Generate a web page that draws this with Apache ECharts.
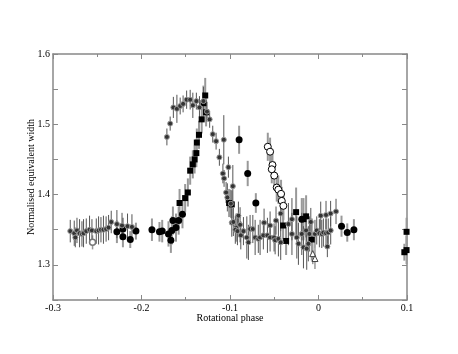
<!DOCTYPE html>
<html><head><meta charset="utf-8">
<script src="https://cdn.jsdelivr.net/npm/echarts@6/dist/echarts.min.js"></script>
<style>html,body{margin:0;padding:0;background:#fff}#c{width:458px;height:354px}</style>
</head><body><div id="c"></div>
<script>
// [phase, value, error]
var starPts = [
 [-0.2805,1.348,0.016],[-0.2760,1.345,0.018],[-0.2748,1.339,0.014],[-0.2729,1.349,0.018],[-0.2700,1.345,0.02],[-0.2673,1.344,0.018],[-0.2655,1.345,0.02],[-0.2624,1.348,0.018],[-0.2587,1.350,0.02],[-0.2560,1.349,0.016],[-0.2511,1.348,0.018],[-0.2485,1.349,0.02],[-0.2458,1.350,0.018],[-0.2430,1.350,0.02],[-0.2400,1.351,0.018],[-0.2372,1.353,0.018],[-0.2342,1.361,0.016],[-0.2278,1.358,0.02],[-0.2220,1.356,0.018],[-0.2158,1.355,0.018],[-0.2108,1.354,0.018],
 [-0.1713,1.482,0.012],[-0.1676,1.501,0.01],[-0.1640,1.524,0.015],[-0.1600,1.522,0.02],[-0.1563,1.526,0.012],[-0.1530,1.529,0.012],[-0.1490,1.535,0.013],[-0.1450,1.535,0.014],[-0.1420,1.527,0.018],[-0.1380,1.533,0.012],[-0.1345,1.524,0.016],[-0.1300,1.533,0.02],[-0.1260,1.518,0.014],[-0.1230,1.507,0.012],[-0.1195,1.486,0.012],[-0.1157,1.476,0.012],[-0.1120,1.453,0.012],[-0.1070,1.478,0.035],
 [-0.1080,1.430,0.014],[-0.1067,1.423,0.012],[-0.1044,1.403,0.015],[-0.1018,1.439,0.015],[-0.0968,1.412,0.03],[-0.1030,1.396,0.02],[-0.0990,1.387,0.02],[-0.0980,1.360,0.02],[-0.0962,1.361,0.02],[-0.0931,1.353,0.02],[-0.0905,1.370,0.02],[-0.0886,1.357,0.025],[-0.0940,1.350,0.02],[-0.0916,1.348,0.02],[-0.0878,1.342,0.02],[-0.0848,1.348,0.02],[-0.0810,1.339,0.03],[-0.0792,1.332,0.025],[-0.0773,1.351,0.02],[-0.0742,1.351,0.02],[-0.0716,1.339,0.025],[-0.0680,1.337,0.02],[-0.0660,1.339,0.025],[-0.0623,1.342,0.02],[-0.0577,1.342,0.025],[-0.0547,1.339,0.02],[-0.0502,1.339,0.02],[-0.0490,1.335,0.02],[-0.0453,1.337,0.025],[-0.0427,1.332,0.025],
 [-0.0615,1.360,0.02],[-0.0547,1.356,0.02],[-0.0480,1.363,0.02],[-0.0427,1.373,0.025],[-0.0340,1.358,0.03],[-0.0300,1.365,0.03],[-0.0087,1.361,0.02],[0.0025,1.370,0.02],[0.0085,1.371,0.02],[0.0137,1.373,0.018],[0.0198,1.376,0.018],
 [-0.0300,1.344,0.03],[-0.0245,1.339,0.03],[-0.0227,1.330,0.03],[-0.0189,1.344,0.03],[-0.0170,1.325,0.03],[-0.0140,1.349,0.025],[-0.0133,1.323,0.03],[-0.0115,1.330,0.025],[-0.0103,1.344,0.025],[-0.0040,1.344,0.02],[-0.0020,1.349,0.02],[0.0010,1.345,0.02],[0.0037,1.344,0.02],[0.0055,1.346,0.02],[0.0085,1.345,0.02],[0.0110,1.346,0.02],[0.0138,1.349,0.02],[0.0100,1.326,0.015]
];
var circlePts = [
 [-0.2278,1.347,0.016],[-0.2210,1.351,0.016],[-0.2210,1.340,0.015],[-0.2127,1.336,0.012],[-0.2063,1.348,0.012],[-0.1882,1.350,0.016],[-0.1797,1.347,0.014],[-0.1766,1.348,0.016],[-0.1695,1.344,0.018],[-0.1668,1.335,0.018],[-0.1657,1.349,0.02],[-0.1645,1.363,0.02],[-0.1610,1.353,0.02],[-0.1580,1.363,0.02],[-0.1537,1.372,0.02],[-0.0897,1.478,0.02],[-0.0800,1.430,0.018],[-0.0708,1.388,0.014],[-0.0189,1.365,0.03],[0.0260,1.355,0.015],[0.0325,1.346,0.013],[0.0400,1.350,0.015]
];
var squarePts = [
 [-0.1570,1.388,0.02],[-0.1507,1.395,0.02],[-0.1476,1.403,0.02],[-0.1450,1.434,0.02],[-0.1420,1.443,0.02],[-0.1400,1.450,0.02],[-0.1380,1.459,0.02],[-0.1375,1.474,0.02],[-0.1350,1.485,0.02],[-0.1320,1.507,0.02],[-0.1270,1.517,0.02],[-0.1300,1.530,0.025],[-0.1280,1.541,0.025],[-0.1010,1.388,0.02],[-0.0980,1.386,0.02],[-0.0400,1.356,0.02],[-0.0366,1.334,0.02],[-0.0253,1.375,0.035],[-0.0140,1.369,0.03],[-0.0170,1.365,0.03],[-0.0076,1.336,0.03],[0.0995,1.347,0.02],[0.0995,1.321,0.02],[0.0970,1.318,0.012]
];
var openCirclePts = [
 [-0.0573,1.468,0.02],[-0.0547,1.461,0.02],[-0.0520,1.442,0.02],[-0.0528,1.436,0.02],[-0.0500,1.427,0.02],[-0.0472,1.410,0.02],[-0.0454,1.407,0.02],[-0.0423,1.401,0.02],[-0.0415,1.391,0.02],[-0.0397,1.384,0.02]
];
var trianglePts = [[-0.0065,1.316,0.015],[-0.0040,1.309,0.015]];
var greyCirclePts = [[-0.2553,1.332,0.01]];

var xTicks = [-0.3,-0.2,-0.1,0,0.1];
var yTicks = [1.3,1.4,1.5,1.6];

function bars(arr){ return arr.map(function(d){ return [d[0], d[1]-d[2], d[1]+d[2]]; }); }
function pts(arr){ return arr.map(function(d){ return [d[0], d[1]]; }); }
function errSeries(arr, color, w){
  return {type:'custom', xAxisIndex:0, yAxisIndex:0, data:bars(arr), silent:true, z:1,
    encode:{x:0,y:[1,2]},
    renderItem:function(params, api){
      var a = api.coord([api.value(0), api.value(1)]);
      var b = api.coord([api.value(0), api.value(2)]);
      return {type:'line', shape:{x1:a[0],y1:a[1],x2:b[0],y2:b[1]}, style:{stroke:color,lineWidth:w}};
    }};
}
var font = 'Liberation Serif';
var axisCol = '#888';
function near(v, list){ for (var i=0;i<list.length;i++) if (Math.abs(v-list[i])<1e-6) return true; return false; }

var chart = echarts.init(document.getElementById('c'));
chart.setOption({
  animation:false,
  backgroundColor:'#fff',
  grid:{left:53,right:51,top:54,bottom:54},
  xAxis:[{
    type:'value', min:-0.3, max:0.1, interval:0.1,
    name:'Rotational phase', nameLocation:'middle', nameGap:13, nameMoveOverlap:false,
    nameTextStyle:{fontFamily:font,fontSize:10,color:'#000'},
    axisLine:{onZero:false,lineStyle:{color:axisCol,width:1.5}},
    axisTick:{inside:true,length:5,lineStyle:{color:axisCol}},
    minorTick:{show:true,splitNumber:2,length:3,lineStyle:{color:axisCol}},
    splitLine:{show:false},
    axisLabel:{fontFamily:font,fontSize:10,color:'#000',margin:3,
      formatter:function(v){ for (var i=0;i<xTicks.length;i++) if (Math.abs(v-xTicks[i])<1e-6) return String(xTicks[i]); return ''; }}
  },{
    type:'value', position:'top', min:-0.3, max:0.1, interval:0.1,
    axisLine:{onZero:false,lineStyle:{color:axisCol,width:1.5}},
    axisTick:{inside:true,length:5,lineStyle:{color:axisCol}},
    minorTick:{show:true,splitNumber:2,length:3,lineStyle:{color:axisCol}},
    splitLine:{show:false}, axisLabel:{show:false}
  }],
  yAxis:[{
    type:'value', min:1.25, max:1.6, interval:0.05,
    name:'Normalised equivalent width', nameLocation:'middle', nameGap:17, nameMoveOverlap:false,
    nameTextStyle:{fontFamily:font,fontSize:10,color:'#000'},
    axisLine:{onZero:false,lineStyle:{color:axisCol,width:1.5}},
    axisTick:{inside:true,length:5,lineStyle:{color:axisCol}},
    splitLine:{show:false},
    axisLabel:{fontFamily:font,fontSize:10,color:'#000',margin:3,
      formatter:function(v){ return near(v,yTicks) ? v.toFixed(1) : ''; }}
  },{
    type:'value', position:'right', min:1.25, max:1.6, interval:0.05,
    axisLine:{onZero:false,lineStyle:{color:axisCol,width:1.5}},
    axisTick:{inside:true,length:5,lineStyle:{color:axisCol}},
    splitLine:{show:false}, axisLabel:{show:false}
  }],
  series:[
    errSeries(circlePts,'#999',2),
    errSeries(squarePts,'#999',2),
    errSeries(openCirclePts,'#999',2),
    errSeries(trianglePts,'#999',1.5),
    errSeries(greyCirclePts,'#999',1.5),
    errSeries(starPts,'#555',1),
    {type:'scatter', data:pts(circlePts), symbol:'circle', symbolSize:7, z:3,
      itemStyle:{color:'#000',opacity:1}},
    {type:'scatter', data:pts(squarePts), symbol:'rect', symbolSize:6, z:3,
      itemStyle:{color:'#000',opacity:1}},
    {type:'scatter', data:pts(starPts), symbol:'circle', symbolSize:5, z:4,
      itemStyle:{color:'#333',borderColor:'#999',borderWidth:1,opacity:1}},
    {type:'scatter', data:pts(openCirclePts), symbol:'circle', symbolSize:7, z:5,
      itemStyle:{color:'#fff',borderColor:'#000',borderWidth:1,opacity:1}},
    {type:'scatter', data:pts(trianglePts), symbol:'triangle', symbolSize:6, z:5,
      itemStyle:{color:'#fff',borderColor:'#444',borderWidth:1,opacity:1}},
    {type:'scatter', data:pts(greyCirclePts), symbol:'circle', symbolSize:6, z:5,
      itemStyle:{color:'#fff',borderColor:'#777',borderWidth:1.5,opacity:1}}
  ]
});
</script>
</body></html>
